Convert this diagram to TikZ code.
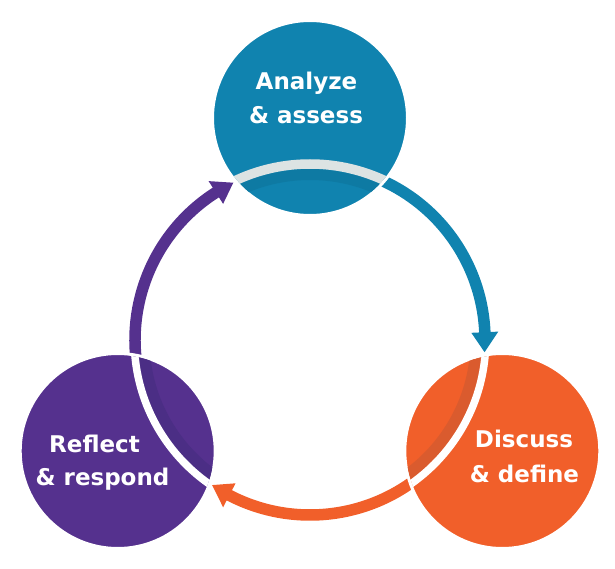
\documentclass[tikz,border=0pt]{standalone}
\usepackage{fontspec}
\setmainfont{DejaVu Sans}
\definecolor{cblue}{HTML}{1083AF}
\definecolor{corange}{HTML}{F15F2A}
\definecolor{cpurple}{HTML}{55318E}
\definecolor{cblueband}{HTML}{DCE3E3}
\definecolor{cbluesh}{HTML}{0E7AA3}
\definecolor{corangesh}{HTML}{DA5B2E}
\definecolor{cpurplesh}{HTML}{4B2E85}
\begin{document}
\begin{tikzpicture}[x=1pt,y=1pt,
  ringarc/.style={line width=11.5pt},
  bubble/.style={circle,inner sep=0pt,minimum size=195pt,draw=white,line width=3pt},
  lbl/.style={text=white,anchor=base,inner sep=0pt,font=\bfseries\fontsize{23}{28}\selectfont}]
\useasboundingbox (0,0) rectangle (615,568);
\coordinate (C) at (310,228);
% colored arcs with arrowheads
\draw[ringarc,cblue] ([shift={(C)}]70:175) arc[start angle=70,end angle=2,radius=175];
\fill[cblue] ([shift={(C)}]-4:175) -- ([shift={(C)}]2.55:188.5) -- ([shift={(C)}]2.55:161.5) -- cycle;
\draw[ringarc,corange] ([shift={(C)}]-50:175) arc[start angle=-50,end angle=-118,radius=175];
\fill[corange] ([shift={(C)}]-124:175) -- ([shift={(C)}]-117.45:188.5) -- ([shift={(C)}]-117.45:161.5) -- cycle;
\draw[ringarc,cpurple] ([shift={(C)}]190:175) arc[start angle=190,end angle=122,radius=175];
\fill[cpurple] ([shift={(C)}]116:175) -- ([shift={(C)}]122.55:188.5) -- ([shift={(C)}]122.55:161.5) -- cycle;
% circles
\node[bubble,fill=cblue] (blue) at (310,450) {};
\node[bubble,fill=corange] (orange) at (502.3,117) {};
\node[bubble,fill=cpurple] (purple) at (117.7,117) {};
% ring bands inside circles
\begin{scope}
  \clip (blue.center) circle[radius=96];
  \draw[cbluesh,line width=11pt] (C) circle[radius=165.5];
  \draw[cblueband,line width=9.5pt] (C) circle[radius=176];
\end{scope}
\begin{scope}
  \clip (orange.center) circle[radius=96];
  \draw[corangesh,line width=11.5pt] (C) circle[radius=166.25];
  \draw[white,line width=7.5pt] (C) circle[radius=175.75];
\end{scope}
\begin{scope}
  \clip (purple.center) circle[radius=96];
  \draw[cpurplesh,line width=11.5pt] (C) circle[radius=166.25];
  \draw[white,line width=7.5pt] (C) circle[radius=175.75];
\end{scope}
% labels
\node[lbl] (t1) at (306.5,478.7) {Analyze};
\node[lbl] (t2) at (306,444.7) {\& assess};
\node[lbl] (t3) at (524,121) {Discuss};
\node[lbl] (t4) at (524.5,86) {\& define};
\node[lbl] (t5) at (94.5,116) {Reflect};
\node[lbl] (t6) at (102.5,83) {\& respond};
\end{tikzpicture}
\end{document}
